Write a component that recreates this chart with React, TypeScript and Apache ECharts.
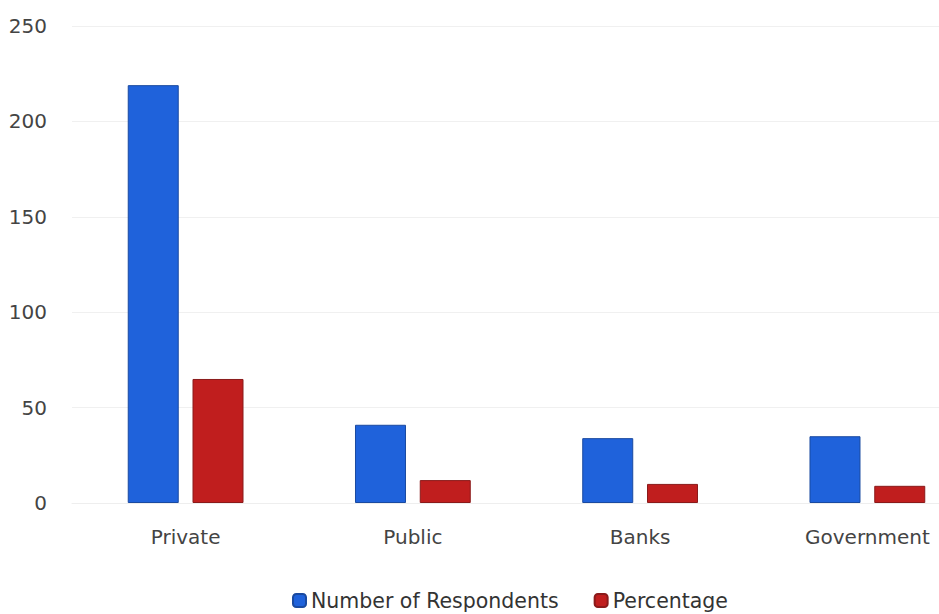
import React, { useEffect, useRef } from "react";
import * as echarts from "echarts";

const categories = ["Private", "Public", "Banks", "Government"];
const respondents = [219, 41, 34, 35];
const percentage = [65, 12, 10, 9];
const yTicks = { min: 0, max: 250, interval: 50 };

export default function App() {
  const ref = useRef<HTMLDivElement>(null);
  useEffect(() => {
    if (!ref.current) return;
    const chart = echarts.init(ref.current, null, { renderer: "svg" });
    const font = "DejaVu Sans";
    chart.setOption({
      animation: false,
      backgroundColor: "#ffffff",
      grid: { left: 72, top: 26, width: 909, height: 477 },
      legend: {
        left: 287,
        top: 585,
        itemWidth: 13,
        itemHeight: 13,
        itemGap: 35,
        icon: "roundRect",
        textStyle: { fontFamily: font, fontSize: 20.5, color: "#333" },
        data: ["Number of Respondents", "Percentage"],
      },
      xAxis: {
        type: "category",
        data: categories,
        axisLine: { show: true, lineStyle: { color: "#eeeeee" } },
        axisTick: { show: false },
        axisLabel: { fontFamily: font, fontSize: 20, color: "#444", margin: 24 },
      },
      yAxis: {
        type: "value",
        min: yTicks.min,
        max: yTicks.max,
        interval: yTicks.interval,
        axisLine: { show: false },
        axisTick: { show: false },
        splitLine: { lineStyle: { color: "#f0f0f0" } },
        axisLabel: { fontFamily: font, fontSize: 20, color: "#444", margin: 25 },
      },
      series: [
        {
          name: "Number of Respondents",
          type: "bar",
          data: respondents,
          barWidth: 51,
          barGap: "27%",
          itemStyle: { color: "#1f62db", borderColor: "#1a4aa0", borderWidth: 1 },
        },
        {
          name: "Percentage",
          type: "bar",
          data: percentage,
          barWidth: 51,
          itemStyle: { color: "#c01e1e", borderColor: "#8a1a1a", borderWidth: 1 },
        },
      ],
    });
    return () => chart.dispose();
  }, []);
  return (
    <div
      style={{
        position: "fixed",
        left: 0,
        top: 0,
        width: 939,
        height: 614,
        overflow: "hidden",
        background: "#fff",
      }}
    >
      <div ref={ref} style={{ width: 1001, height: 614 }} />
    </div>
  );
}
